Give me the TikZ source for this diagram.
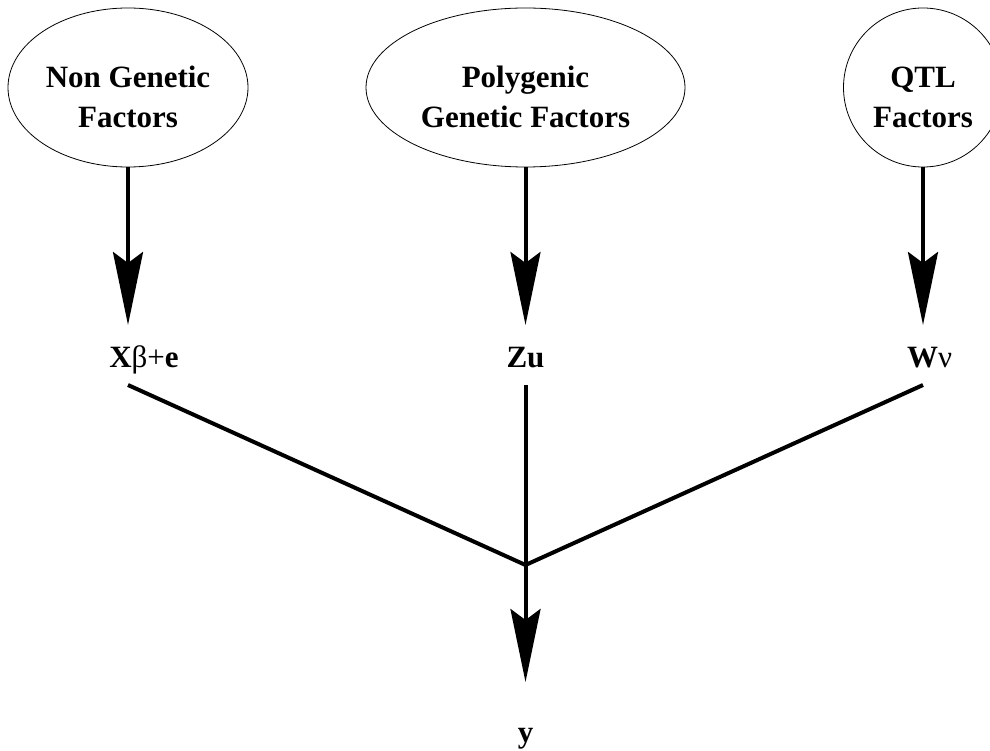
\documentclass[tikz,border=0pt]{standalone}
\usepackage{fontspec}
\setmainfont{Liberation Serif}
\usetikzlibrary{shapes.geometric,arrows.meta}
\begin{document}
\begin{tikzpicture}[x=1pt,y=-1pt,
  factor/.style={draw, line width=0.8pt, ellipse, inner sep=0pt, outer sep=0pt,
    minimum height=159pt, align=center,
    font=\fontsize{31}{40}\selectfont\bfseries},
  qtlcircle/.style={draw, line width=0.8pt, circle, inner sep=0pt, outer sep=0pt,
    minimum size=159pt, align=center,
    font=\fontsize{31}{40}\selectfont\bfseries},
  term/.style={inner sep=0pt, outer sep=0pt, anchor=base,
    text height=42pt, text depth=18pt,
    font=\fontsize{31}{40}\selectfont\bfseries},
  conn/.style={line width=4pt},
  arr/.style={conn, -{Stealth[length=73pt,width=30pt,inset=11pt]}}]
\useasboundingbox (0,0) rectangle (990,751);
% factor nodes
\node[factor, minimum width=240pt] (ng) at (128,87.5) {\rule{0pt}{40pt}Non Genetic\\Factors};
\node[factor, minimum width=319pt] (pg) at (525.5,87.5) {\rule{0pt}{40pt}Polygenic\\Genetic Factors};
\node[qtlcircle] (qtl) at (923,87.5) {\rule{0pt}{40pt}QTL\\Factors};
% terms
\node[term] (xb) at (144,367) {X{\mdseries β+}e};
\node[term] (zu) at (525.5,367) {Zu};
\node[term] (wv) at (929.5,367) {W{\mdseries ν}};
\node[term, text height=60pt, text depth=0pt] (y) at (525.5,742) {y};
\coordinate (j) at (525.5,565);
% arrows
\draw[arr] (ng.south) -- (ng.south |- xb.north);
\draw[arr] (pg.south) -- (pg.south |- zu.north);
\draw[arr] (qtl.south) -- (qtl.south |- wv.north);
% joining lines
\draw[conn] (ng.south |- xb.south) -- (j);
\draw[conn] (pg.south |- zu.south) -- (j);
\draw[conn] (qtl.south |- wv.south) -- (j);
\draw[arr] (j) -- (y.north);
\end{tikzpicture}
\end{document}
